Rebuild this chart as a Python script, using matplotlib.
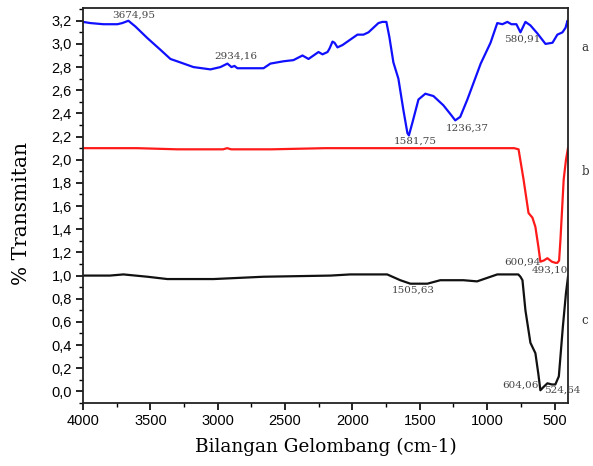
import matplotlib
matplotlib.use("Agg")
import matplotlib.pyplot as plt
from matplotlib.ticker import MultipleLocator, FuncFormatter

# ---- data ----
wn_a = [4000, 3946, 3849, 3745, 3708, 3663, 3611, 3522, 3426, 3351, 3277, 3180, 3054,
        2980, 2928, 2898, 2876, 2854, 2757, 2660, 2609, 2512, 2438, 2371, 2326, 2289,
        2252, 2222, 2185, 2170, 2148, 2133, 2111, 2074, 2037, 2000, 1963, 1918, 1881,
        1807, 1778, 1748, 1726, 1696, 1659, 1622, 1592, 1581, 1555, 1510, 1459, 1399,
        1325, 1270, 1237, 1200, 1147, 1048, 975, 925, 887, 850, 820, 783, 753, 716,
        679, 627, 567, 515, 479, 441, 418, 404, 400]
tr_a = [3.19, 3.18, 3.17, 3.17, 3.18, 3.20, 3.15, 3.05, 2.95, 2.87, 2.84, 2.80, 2.78,
        2.80, 2.83, 2.80, 2.81, 2.79, 2.79, 2.79, 2.83, 2.85, 2.86, 2.90, 2.87, 2.90,
        2.93, 2.91, 2.93, 2.96, 3.02, 3.01, 2.97, 2.99, 3.02, 3.05, 3.08, 3.08, 3.10,
        3.18, 3.19, 3.19, 3.06, 2.84, 2.70, 2.43, 2.23, 2.21, 2.32, 2.52, 2.57, 2.55,
        2.47, 2.39, 2.34, 2.37, 2.52, 2.83, 3.01, 3.18, 3.17, 3.19, 3.17, 3.17, 3.10, 3.19,
        3.16, 3.09, 3.00, 3.01, 3.08, 3.10, 3.14, 3.20, 3.16]

wn_b = [4000, 3600, 3300, 3000, 2960, 2930, 2900, 2870, 2600, 2200, 1800, 1500, 1000,
        800, 767, 730, 693, 664, 642, 620, 605, 580, 553, 520, 493, 479, 466, 456, 432,
        415, 400]
tr_b = [2.10, 2.10, 2.09, 2.09, 2.09, 2.10, 2.09, 2.09, 2.09, 2.10, 2.10, 2.10, 2.10,
        2.10, 2.09, 1.83, 1.54, 1.50, 1.42, 1.25, 1.12, 1.13, 1.15, 1.12, 1.11, 1.11,
        1.13, 1.31, 1.83, 2.00, 2.10]

wn_c = [4000, 3800, 3700, 3522, 3374, 3031, 2660, 2163, 2016, 1742, 1645, 1570, 1444,
        1348, 1176, 1075, 1000, 925, 769, 753, 738, 716, 679, 642, 620, 605, 580, 553,
        520, 494, 468, 438, 415, 400]
tr_c = [1.00, 1.00, 1.01, 0.99, 0.97, 0.97, 0.99, 1.00, 1.01, 1.01, 0.96, 0.93, 0.93,
        0.96, 0.96, 0.95, 0.98, 1.01, 1.01, 0.99, 0.96, 0.70, 0.42, 0.33, 0.15, 0.01,
        0.04, 0.07, 0.06, 0.06, 0.13, 0.56, 0.85, 0.99]

peak_labels = ["3674,95", "2934,16", "1581,75", "1236,37", "580,91",
               "600,94", "493,10", "1505,63", "604,06", "524,64"]
peak_x = [3626, 2869, 1531, 1147, 738, 740, 537, 1546, 752, 440]
peak_y = [3.25, 2.89, 2.16, 2.27, 3.04, 1.12, 1.05, 0.87, 0.05, 0.01]

series_names = ["a", "b", "c"]
series_label_y = [2.97, 1.90, 0.61]

# ---- figure ----
fig = plt.figure(figsize=(5.93, 4.66), dpi=100)
ax = fig.add_axes([83/593, 1 - 403/466, (568 - 83)/593, (403 - 8)/466])

ax.plot(wn_a, tr_a, color="#1010ff", lw=1.6)
ax.plot(wn_b, tr_b, color="#ff1a1a", lw=1.6)
ax.plot(wn_c, tr_c, color="#111111", lw=1.6)

ax.set_xlim(4000, 400)
ax.set_ylim(-0.1, 3.31)

ax.xaxis.set_major_locator(MultipleLocator(500))
ax.xaxis.set_minor_locator(MultipleLocator(250))
ax.yaxis.set_major_locator(MultipleLocator(0.2))
ax.yaxis.set_minor_locator(MultipleLocator(0.1))
ax.yaxis.set_major_formatter(FuncFormatter(lambda v, p: f"{v:.1f}".replace(".", ",").replace("-0,0", "0,0")))
ax.xaxis.set_major_formatter(FuncFormatter(lambda v, p: f"{int(v)}"))

ax.tick_params(which="major", direction="out", length=5, width=1.2,
               labelsize=10.5, pad=3, top=False, right=False)
ax.tick_params(which="minor", direction="out", length=3, width=1.0, top=False, right=False)
for lab in ax.get_xticklabels() + ax.get_yticklabels():
    lab.set_family("Liberation Sans")
for s in ax.spines.values():
    s.set_linewidth(1.3)
    s.set_color("#222222")

ax.set_xlabel("Bilangan Gelombang (cm-1)", family="DejaVu Serif", fontsize=13.3, labelpad=7)
ax.set_ylabel("% Transmitan", family="DejaVu Serif", fontsize=14.5)
ax.yaxis.set_label_coords(-0.108, 0.48)

for t, x, y in zip(peak_labels, peak_x, peak_y):
    ax.text(x, y, t, ha="center", va="center", fontsize=7.5, family="DejaVu Serif",
            color="#444444")

for n, y in zip(series_names, series_label_y):
    ax.text(1.035, (y + 0.1) / 3.41, n, transform=ax.transAxes, ha="center", va="center",
            fontsize=8.5, family="DejaVu Serif", color="#333333")

fig.savefig("out.png", dpi=100)
